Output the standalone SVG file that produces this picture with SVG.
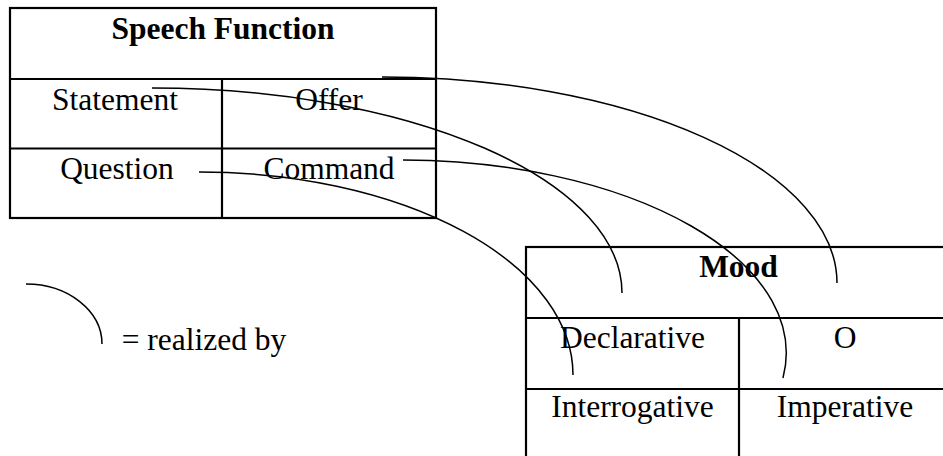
<svg xmlns="http://www.w3.org/2000/svg" width="943" height="456" viewBox="0 0 943 456">
<style>
.t{font-family:"Liberation Serif","Times New Roman",serif;font-size:31.5px;fill:#000;text-anchor:middle}
.b{font-weight:bold}
.box{fill:none;stroke:#000;stroke-width:2.2}
.ln{stroke:#000;stroke-width:2.2}
.c{fill:none;stroke:#000;stroke-width:1.5}
</style>
<rect width="943" height="456" fill="#fff"/>
<g id="speech-function">
<rect class="box" x="10" y="8" width="426" height="210"/>
<line class="ln" x1="10" y1="79" x2="436" y2="79"/>
<line class="ln" x1="10" y1="148.5" x2="436" y2="148.5"/>
<line class="ln" x1="222" y1="79" x2="222" y2="218"/>
<text class="t b" x="223" y="39">Speech Function</text>
</g>
<g id="statement"><text class="t" x="115" y="110">Statement</text></g>
<g id="offer"><text class="t" x="329" y="110">Offer</text></g>
<g id="question"><text class="t" x="117" y="179">Question</text></g>
<g id="command"><text class="t" x="329" y="179">Command</text></g>
<g id="mood">
<rect class="box" x="526" y="247" width="425" height="250"/>
<line class="ln" x1="526" y1="318" x2="951" y2="318"/>
<line class="ln" x1="526" y1="389" x2="951" y2="389"/>
<line class="ln" x1="739" y1="318" x2="739" y2="497"/>
<text class="t b" x="738.5" y="277">Mood</text>
</g>
<g id="declarative"><text class="t" x="632.5" y="348">Declarative</text></g>
<g id="o"><text class="t" x="845" y="348">O</text></g>
<g id="interrogative"><text class="t" x="632.5" y="417">Interrogative</text></g>
<g id="imperative"><text class="t" x="845" y="417">Imperative</text></g>
<g id="legend">
<path class="c" d="M26,284 A76,60 0 0 1 102,344"/>
<text class="t" x="204" y="350">= realized by</text>
</g>
<g id="connectors">
<path class="c" d="M382,77 A455,206 0 0 1 837,283"/>
<path class="c" d="M152,88 A470,205 0 0 1 622,293"/>
<path class="c" d="M403,160 A385,193 0 0 1 783,378"/>
<path class="c" d="M199,172 A374,203 0 0 1 573,375"/>
</g>
</svg>
